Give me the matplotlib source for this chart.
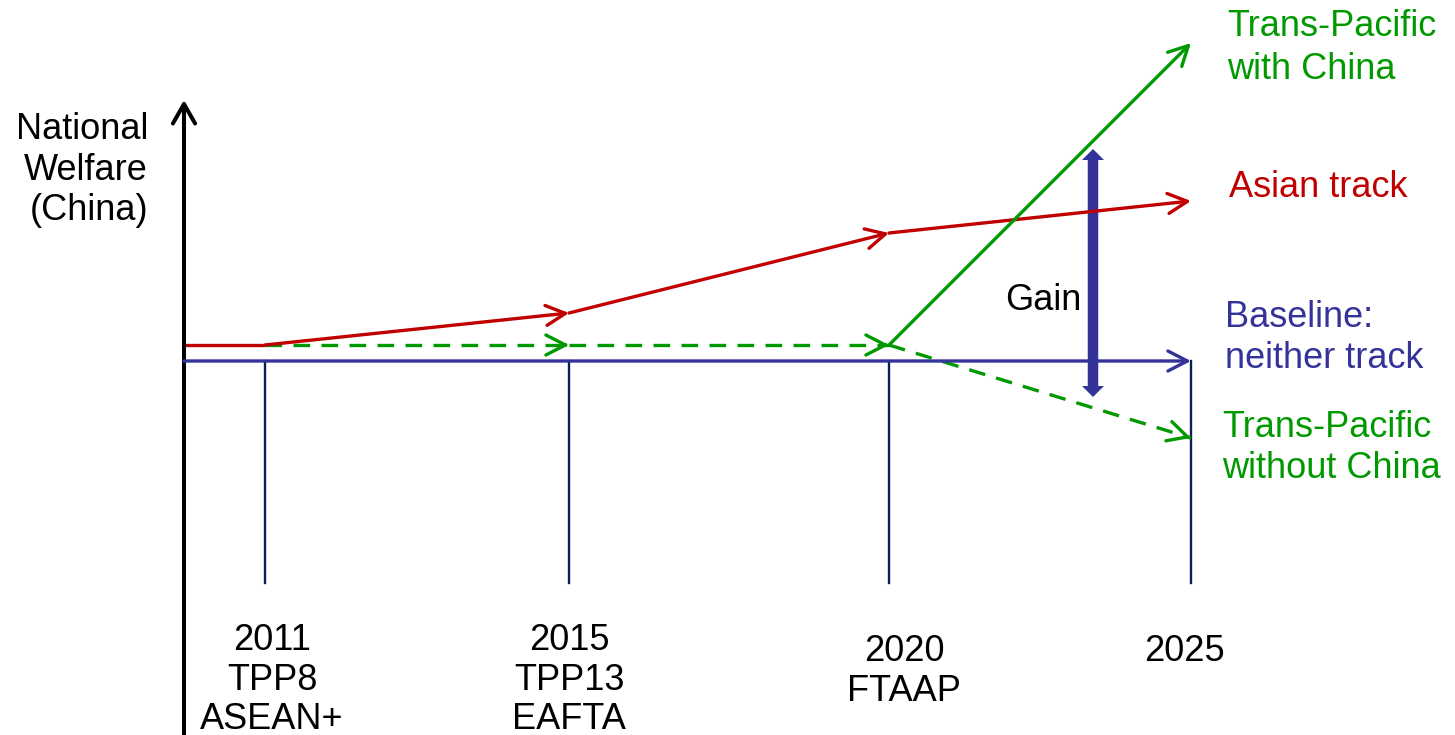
import matplotlib
matplotlib.use("Agg")
import matplotlib.pyplot as plt
from matplotlib import font_manager

# Stage positions along the horizontal axis and their labels
stage_x = [265, 569, 889, 1191]
stage_labels = ["2011\nTPP8\nASEAN+", "2015\nTPP13\nEAFTA", "2020\nFTAAP", "2025"]
label_x = [272, 569, 904, 1184]
label_top = [-262, -262, -273, -273]

# Welfare relative to the baseline (baseline = 0)
axis_x = 184
asian_start = 16
asian_track = [16, 48, 128, 160]
tp_without_china = [16, 16, 16, -77]
tp_with_china = [16, 318]          # from 2020 to 2025
gain_x = 1093
gain_range = [-36, 212]

RED = "#C00000"
GREEN = "#009900"
BLUE = "#333399"
NAVY = "#0A1F5C"

names = {f.name for f in font_manager.fontManager.ttflist}
main_font = "Liberation Sans" if "Liberation Sans" in names else "DejaVu Sans"
narrow_font = main_font
for cand in ["Liberation Sans Narrow", "Arial Narrow"]:
    if cand in names:
        narrow_font = cand
        break
plt.rcParams["font.family"] = main_font

fig = plt.figure(figsize=(14.55, 7.35), dpi=100)
ax = fig.add_axes([0, 0, 1, 1])
ax.set_xlim(0, 1455)
ax.set_ylim(-374, 361)
ax.axis("off")

LW = 2.4
head = "->,head_length=0.7,head_width=0.36"


def arrow(p0, p1, color, lw=LW, style=head):
    ax.annotate("", xy=p1, xytext=p0,
                arrowprops=dict(arrowstyle=style, color=color, lw=lw,
                                shrinkA=0, shrinkB=0, mutation_scale=20))


def dashed_arrow(p0, p1, color):
    ax.plot([p0[0], p1[0]], [p0[1], p1[1]], color=color, lw=LW,
            dashes=(5, 3.4), dash_capstyle="butt")
    dx, dy = p1[0] - p0[0], p1[1] - p0[1]
    f = 0.02
    arrow((p1[0] - dx * f, p1[1] - dy * f), p1, color)


# vertical axis
arrow((axis_x, -374), (axis_x, 261), "black", lw=2.9,
      style="->,head_length=0.7,head_width=0.4")

# drop lines at each stage
for x in stage_x:
    ax.plot([x, x], [0, -222], color=NAVY, lw=1.7)

# baseline
arrow((axis_x, 0), (stage_x[-1], 0), BLUE)

# Asian track
ax.plot([axis_x, stage_x[0]], [asian_start, asian_track[0]], color=RED, lw=LW,
        solid_capstyle="butt")
for i in range(len(stage_x) - 1):
    arrow((stage_x[i], asian_track[i]), (stage_x[i + 1], asian_track[i + 1]), RED)

# Trans-Pacific without China (dashed)
for i in range(len(stage_x) - 1):
    dashed_arrow((stage_x[i], tp_without_china[i]),
                 (stage_x[i + 1], tp_without_china[i + 1]), GREEN)

# Trans-Pacific with China
arrow((stage_x[2], tp_with_china[0]), (stage_x[3], tp_with_china[1]), GREEN)

# Gain: double-headed thick arrow, drawn as two filled arrows from the middle
mid = (gain_range[0] + gain_range[1]) / 2
for end in gain_range:
    ax.arrow(gain_x, mid, 0, end - mid, width=10.5, head_width=22,
             head_length=11, length_includes_head=True, color=BLUE, lw=0)
ax.text(1043, 61, "Gain", fontsize=26, ha="center", va="center", color="black")

# left label
ax.text(148, 191, "National\nWelfare\n(China)", fontsize=26, ha="right",
        va="center", multialignment="right", linespacing=1.2)

# right labels
ax.text(1227, 313, "Trans-Pacific\nwith China", fontsize=26, color=GREEN,
        ha="left", va="center", linespacing=1.3)
ax.text(1229, 174, "Asian track", fontsize=26, color=RED, ha="left", va="center")
ax.text(1225, 23, "Baseline:\nneither track", fontsize=26, color=BLUE,
        ha="left", va="center", linespacing=1.25)
ax.text(1222, -87, "Trans-Pacific\nwithout China", fontsize=26, color=GREEN,
        ha="left", va="center", linespacing=1.25)

# stage labels
for x, y, lab in zip(label_x, label_top, stage_labels):
    ax.text(x, y, lab, fontsize=26, ha="center", va="top", family=narrow_font,
            linespacing=1.17)

fig.savefig("out.png", dpi=100)
